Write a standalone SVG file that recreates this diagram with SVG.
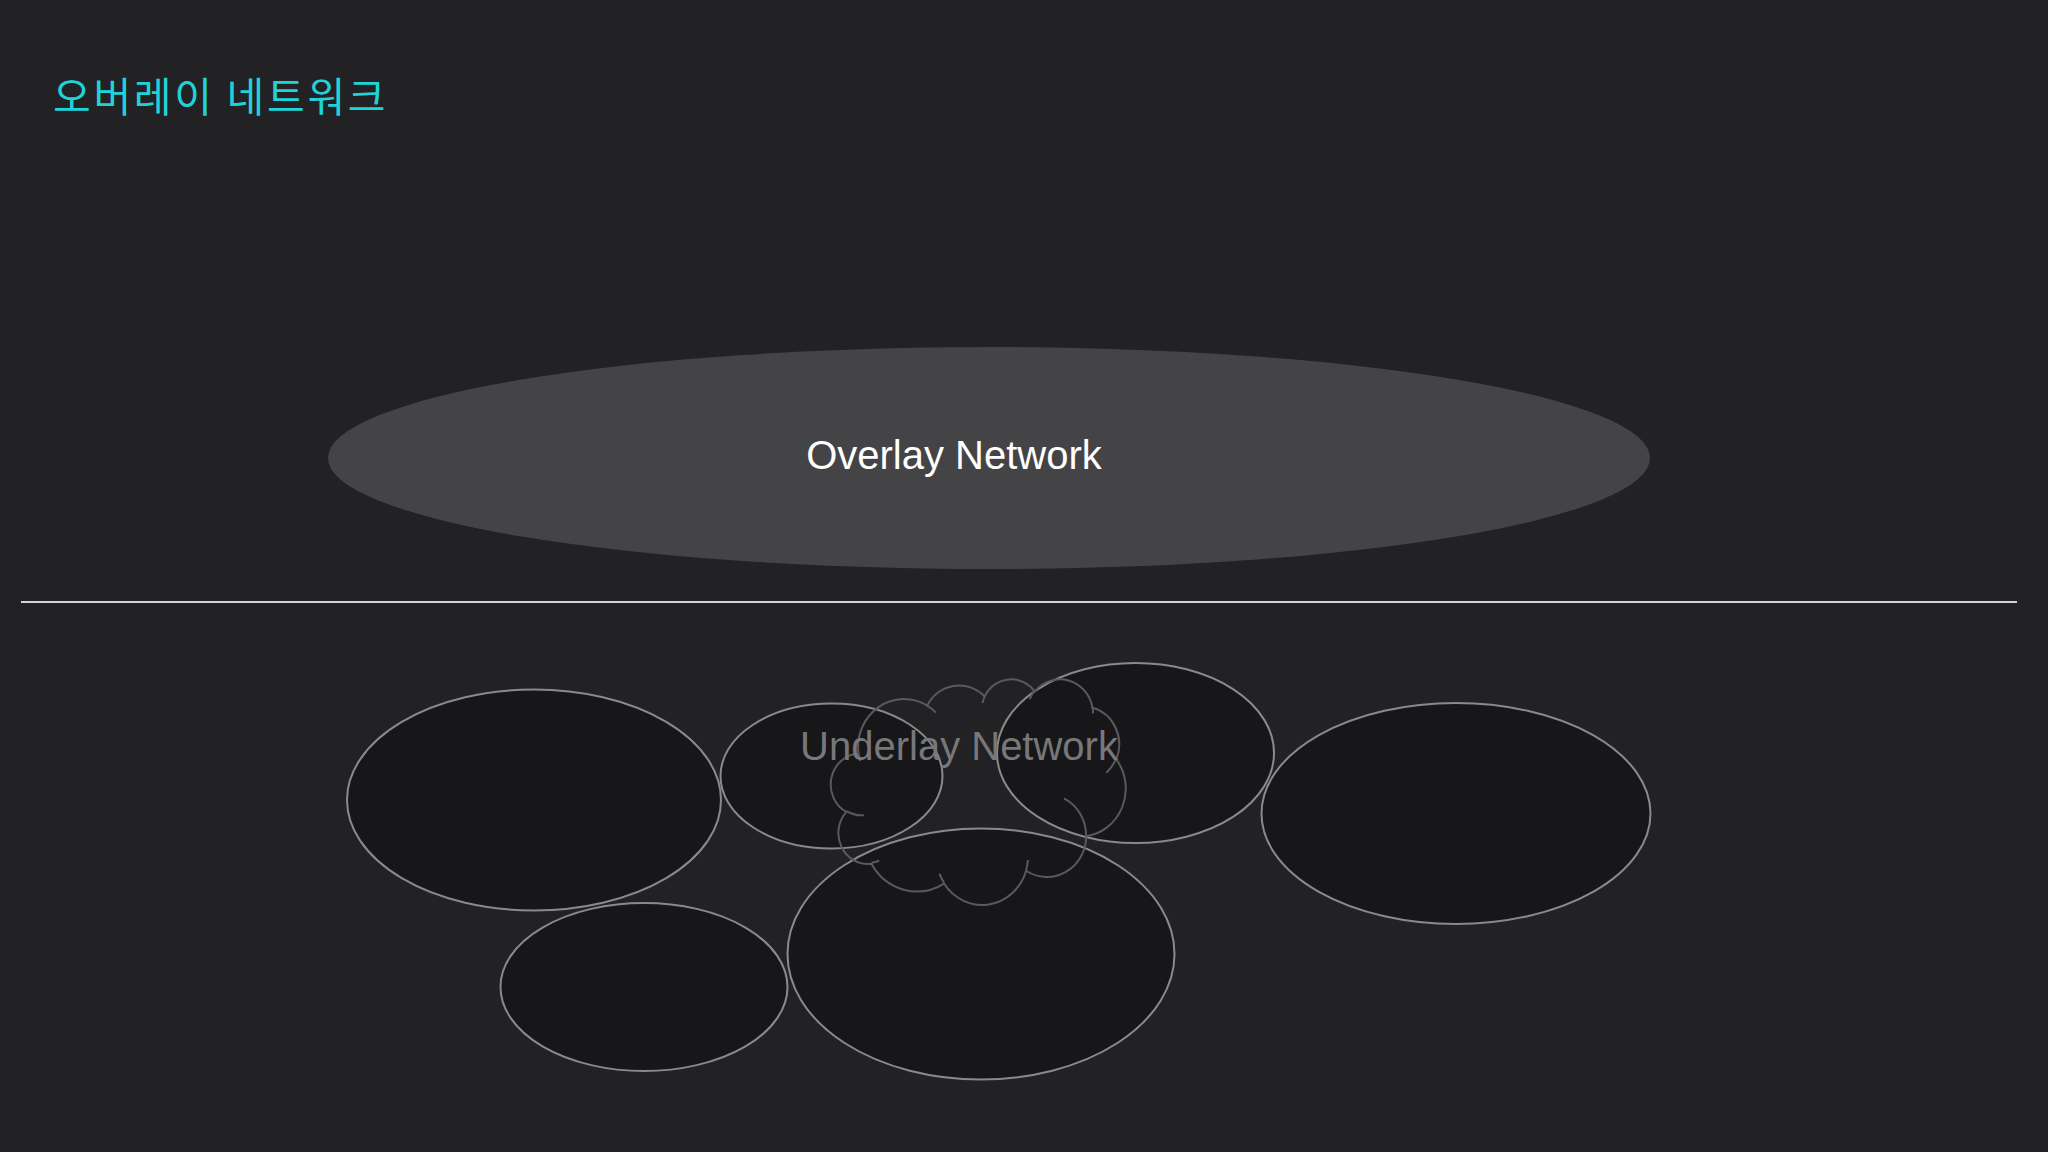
<svg xmlns="http://www.w3.org/2000/svg" width="2048" height="1152" viewBox="0 0 2048 1152">
  <style>
    .title { font-family: "Noto Sans CJK KR", "Noto Sans", sans-serif; font-size: 41px; font-weight: 400; letter-spacing: 2.7px; fill: #20d3d8; }
    .label { font-family: "Liberation Sans", Arial, sans-serif; font-size: 40px; text-anchor: middle; }
    .node { fill: #000000; fill-opacity: 0.3; stroke: #8a8a8c; stroke-width: 2; }
    .cloud { fill: none; stroke: #5a5a5c; stroke-width: 2; }
  </style>
  <rect x="0" y="0" width="2048" height="1152" fill="#222224"/>
  <text class="title" x="53" y="112">오버레이 네트워크</text>

  <g id="overlay-network">
    <ellipse cx="989" cy="458" rx="661" ry="111" fill="#444446"/>
    <text class="label" x="954" y="469" fill="#ffffff">Overlay Network</text>
  </g>

  <g id="connectors">
    <line x1="21" y1="602" x2="2017" y2="602" stroke="#d4d4d4" stroke-width="2"/>
  </g>

  <g id="underlay-nodes">
    <g id="node-1"><ellipse class="node" cx="534" cy="800" rx="187" ry="110.5"/></g>
    <g id="node-2"><ellipse class="node" cx="831.5" cy="776" rx="111" ry="72.5"/></g>
    <g id="node-3"><ellipse class="node" cx="1135.5" cy="753" rx="138.5" ry="90"/></g>
    <g id="node-4"><ellipse class="node" cx="1456" cy="813.5" rx="194.5" ry="110.5"/></g>
    <g id="node-5"><ellipse class="node" cx="644" cy="987" rx="143.5" ry="84"/></g>
    <g id="node-6"><ellipse class="node" cx="981" cy="954" rx="193.5" ry="125.5"/></g>
  </g>

  <g id="underlay-network">
    <g transform="translate(832 678.5) scale(0.006797 0.005222)">
      <path class="cloud" vector-effect="non-scaling-stroke" d="M 3900 14370 A 6753 9190 0 0 1 14005 5202 A 5333 7267 0 0 1 22458 3436 A 4365 5945 0 0 1 29835 2486 A 4857 6595 0 0 1 38319 5583 A 5333 7273 0 0 1 41819 15467 A 6775 9220 0 0 1 37405 30210 A 5785 7867 0 0 1 28557 36820 A 6752 9215 0 0 1 16480 39268 A 7720 10543 0 0 1 5803 35476 A 4360 5918 0 0 1 2113 25552 A 4345 5945 0 0 1 3900 14370 Z"/>
      <path class="cloud" vector-effect="non-scaling-stroke" d="M 4693 26177 A 4345 5945 0 0 1 2160 25380 M 6928 34899 A 4360 5918 0 0 1 5820 35281 M 16478 39090 A 6752 9215 0 0 1 15812 37353 M 28827 34751 A 6752 9215 0 0 1 28560 36660 M 34129 22954 A 5785 7867 0 0 1 37380 30090 M 41798 15354 A 5333 7273 0 0 1 40350 18030 M 38324 5426 A 4857 6595 0 0 1 38400 6690 M 29078 3952 A 4857 6595 0 0 1 29821 2338 M 22141 4720 A 4365 5945 0 0 1 22500 3329 M 14000 5192 A 6753 9190 0 0 1 15301 6541 M 4127 15789 A 6753 9190 0 0 1 3900 14371"/>
    </g>
    <text class="label" x="959" y="760" fill="#78787a">Underlay Network</text>
  </g>
</svg>
